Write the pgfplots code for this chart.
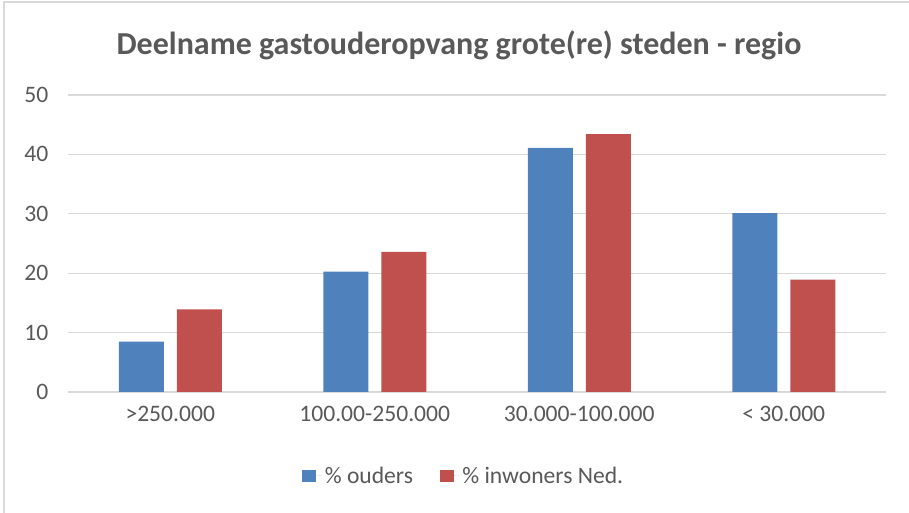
\documentclass[border=0pt]{standalone}
\usepackage{pgfplots}
\pgfplotsset{compat=1.18}
\usepackage{fontspec}
\setmainfont{Carlito}
\definecolor{txt}{HTML}{595959}
\definecolor{grd}{HTML}{D9D9D9}
\definecolor{cblue}{HTML}{4F81BD}
\definecolor{cred}{HTML}{C0504D}
\begin{document}
\begin{tikzpicture}
\path[use as bounding box] (0pt,0pt) rectangle (681.75pt,384.75pt);
\draw[grd, line width=1pt] (3pt,0pt) -- (3pt,383.25pt) -- (681.75pt,383.25pt);
\node[font=\fontsize{24}{28}\selectfont\bfseries, text=txt, anchor=base] at (344.25pt,343.5pt) {Deelname gastouderopvang grote(re) steden - regio};
\begin{axis}[
  at={(51pt,90.75pt)}, anchor=south west,
  scale only axis, width=613.5pt, height=222.75pt,
  ybar, bar width=33.75pt,
  xmin=-0.5, xmax=3.5, ymin=0, ymax=50,
  xtick=data, xticklabels={>250.000,100.00-250.000,30.000-100.000,< 30.000},
  ytick={0,10,...,50},
  ymajorgrids, grid style={grd, line width=0.9pt},
  axis line style={draw=none}, major tick length=0pt,
  tick label style={font=\fontsize{17.7}{20}\selectfont, text=txt},
  /pgf/number format/assume math mode=true,
  yticklabel style={inner sep=0pt, xshift=-14.5pt},
  xticklabel style={anchor=base, yshift=-22pt},
  legend columns=2,
  legend style={at={(axis description cs:0.5,0)}, anchor=center, xshift=-9.75pt, yshift=-63pt, draw=none, font=\fontsize{17.7}{20}\selectfont, text=txt, /tikz/every even column/.append style={column sep=18pt}},
  legend image code/.code={\fill[#1] (0pt,-4.5pt) rectangle (10.5pt,4.5pt); \path (0pt,0pt) -- (15pt,0pt);},
]
\addplot[fill=cblue, draw=none, bar shift=-21.75pt] coordinates {(0,8.5) (1,20.25) (2,41.1) (3,30.1)};
\addplot[fill=cred, draw=none, bar shift=21.75pt] coordinates {(0,13.9) (1,23.6) (2,43.4) (3,18.9)};
\legend{\% ouders, \% inwoners Ned.}
\end{axis}
\end{tikzpicture}
\end{document}
